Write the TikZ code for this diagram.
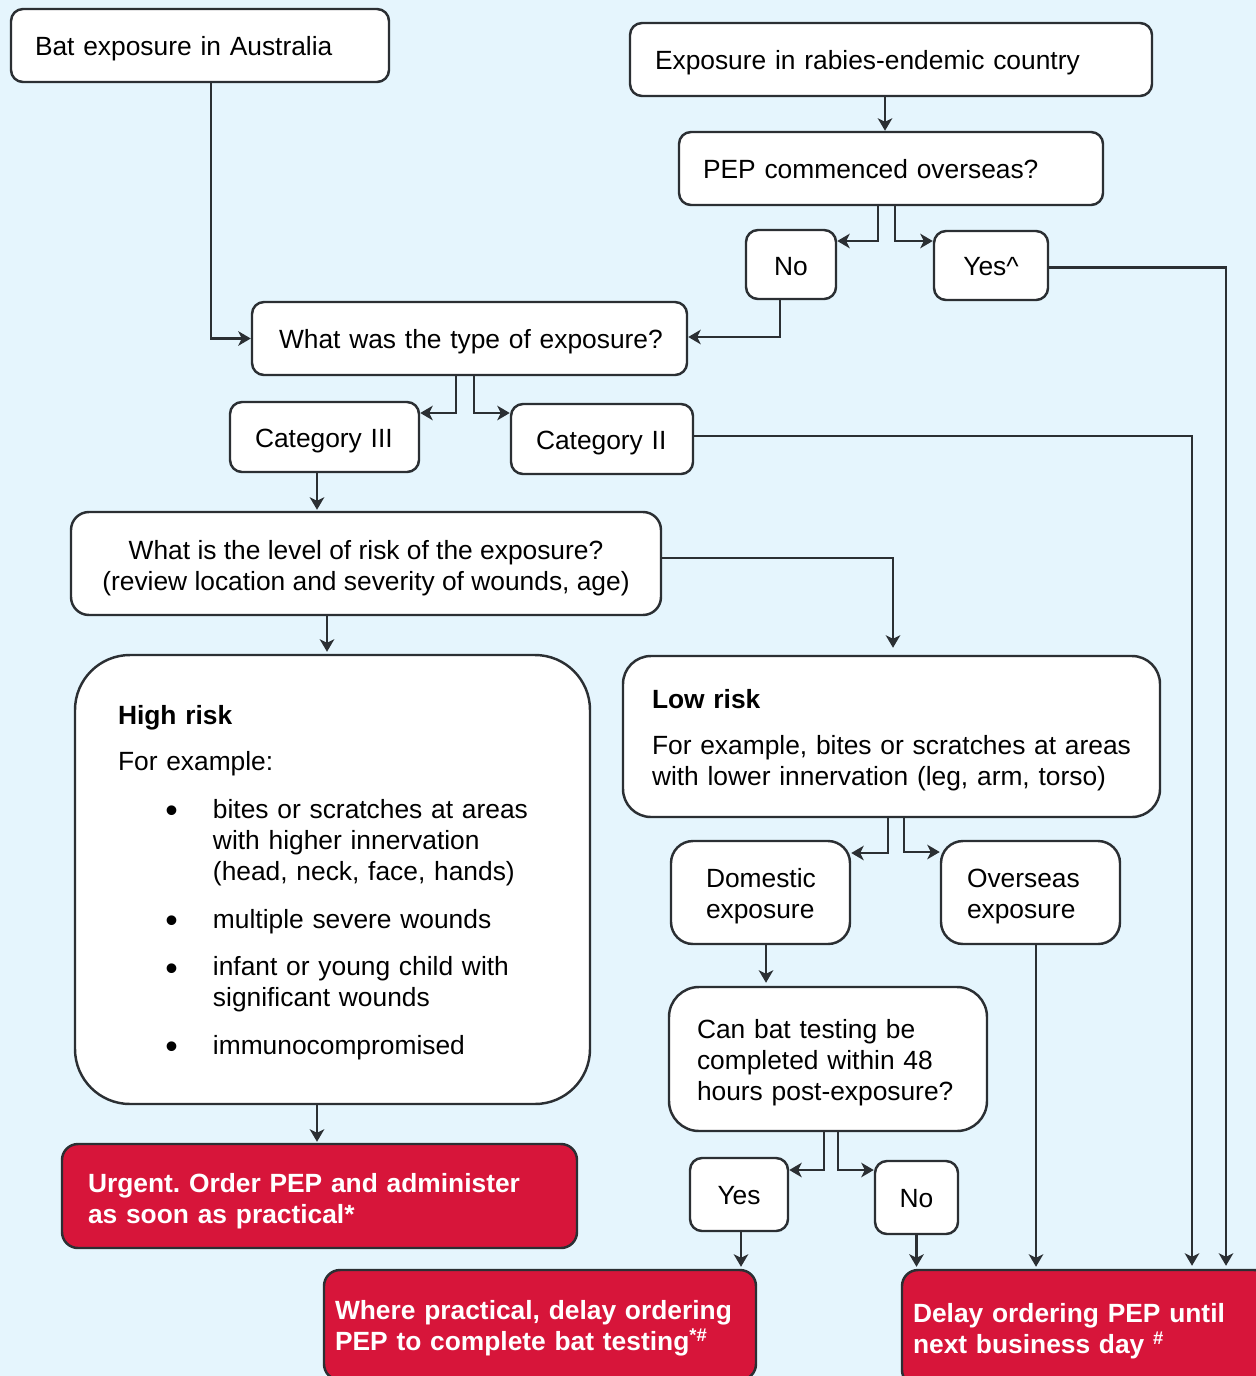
\documentclass[tikz,border=0pt]{standalone}
\usepackage{fontspec}
\usepackage{graphicx}
\setmainfont{Liberation Sans}
\usetikzlibrary{arrows.meta,calc}
\definecolor{bgblue}{RGB}{229,245,253}
\definecolor{redbox}{RGB}{215,21,58}
\definecolor{edgec}{RGB}{43,47,51}
\newcommand{\mylines}[1]{\raisebox{-0.08cm}[\height][\depth]{\begin{tabular}{@{}l@{}}#1\end{tabular}}}
\newcommand{\mycent}[2]{\raisebox{-#1cm}[\height][\depth]{\begin{tabular}{@{}c@{}}#2\end{tabular}}}
\newcommand{\hrbullet}{\hspace*{0.95cm}\makebox[0.95cm][l]{\raisebox{-0.3ex}{\scalebox{1.35}{\textbullet}}}}
\newcommand{\hrcont}{\hspace*{1.9cm}}
\frenchspacing
\begin{document}
\begin{tikzpicture}[x=0.02cm,y=-0.02cm,
  every node/.style={font=\fontsize{15}{17.6}\selectfont},
  base/.style={draw=edgec, line width=1.4pt, fill=white, text=black, rounded corners=#1*0.02cm},
  base/.default=12,
  redb/.style={draw=edgec, line width=1.4pt, fill=redbox, text=white, rounded corners=16*0.02cm, font=\bfseries\fontsize{15}{17.6}\selectfont},
  lb/.style n args={3}{minimum width=#1*0.02cm, minimum height=#2*0.02cm, text width=(#1-2*#3)*0.02cm, inner xsep=#3*0.02cm, inner ysep=0pt, align=left},
  cb/.style n args={2}{minimum width=#1*0.02cm, minimum height=#2*0.02cm, inner sep=0pt, align=center},
  arr/.style={draw=edgec, line width=1.25pt, -{Stealth[length=0.25cm,width=0.29cm,inset=0.07cm]}},
]
\fill[bgblue] (0,0) rectangle (1256,1376);
\useasboundingbox (0,0) rectangle (1256,1376);

\node[base, lb={378}{73}{24}] (bat) at (200,45.5) {\mylines{Bat exposure in Australia}};
\node[base, lb={522}{73}{25}] (endemic) at (891,59.5) {\mylines{Exposure in rabies-endemic country}};
\node[base, lb={424}{73}{24}] (pep) at (891,168.5) {\mylines{PEP commenced overseas?}};
\node[base, cb={90}{69}] (no1) at (791,264.5) {\mycent{0.09}{No}};
\node[base, cb={114}{69}] (yes1) at (991,265.5) {\mycent{0.07}{Yes\textasciicircum}};
\node[base, lb={435}{73}{27}] (type) at (469.5,338.5) {\mylines{What was the type of exposure?}};
\node[base, lb={189}{70}{25}] (cat3) at (324.5,437) {\mylines{Category III}};
\node[base, lb={182}{70}{25}] (cat2) at (602,439) {\mylines{Category II}};
\node[base=18, cb={590}{103}] (level) at (366,563.5) {\mycent{0.1}{What is the level of risk of the exposure?\\(review location and severity of wounds, age)}};
\node[base=55, lb={515}{449}{43}] (high) at (332.5,879.5) {\mylines{\textbf{High risk}\\[8.5pt]
  For example:\\[9.6pt]
  \hrbullet bites or scratches at areas\\
  \hrcont with higher innervation\\
  \hrcont (head, neck, face, hands)\\[9.6pt]
  \hrbullet multiple severe wounds\\[9.6pt]
  \hrbullet infant or young child with\\
  \hrcont significant wounds\\[9.6pt]
  \hrbullet immunocompromised}};
\node[base=28, lb={537}{161}{29}] (low) at (891.5,736.5) {\mylines{\textbf{Low risk}\\[8.5pt]
  For example, bites or scratches at areas\\
  with lower innervation (leg, arm, torso)}};
\node[base=22, lb={179}{103}{35}] (dom) at (760.5,892.5) {\mylines{Domestic\\exposure}};
\node[base=22, lb={179}{103}{26}] (ovs) at (1030.5,892.5) {\mylines{Overseas\\exposure}};
\node[base=30, lb={318}{144}{28}] (canbat) at (828,1059) {\mylines{Can bat testing be\\completed within 48\\hours post-exposure?}};
\node[base, cb={98}{73}] (yes2) at (739,1194.5) {\mycent{0.07}{Yes}};
\node[base, cb={83}{73}] (no2) at (916.5,1197.5) {\mycent{0.07}{No}};
\node[redb, lb={515}{104}{26}] (urgent) at (319.5,1196) {\raisebox{-0.12cm}[\height][\depth]{\begin{tabular}{@{}l@{}}Urgent. Order PEP and administer\\as soon as practical*\end{tabular}}};
\node[redb, lb={432}{110}{11}] (where) at (540,1325) {\mylines{Where practical, delay ordering\\PEP to complete bat testing\textsuperscript{*\#}}};
\node[redb, lb={368}{116}{11}] (delay) at (1086,1328) {\mylines{Delay ordering PEP until\\next business day \textsuperscript{\#}}};

\draw[arr] ($(bat.south)+(11,0)$) |- (type.west);
\draw[arr] ($(endemic.south)+(-6,0)$) -- ($(pep.north)+(-6,0)$);
\draw[arr] ($(pep.south)+(-13,0)$) |- ($(no1.east)+(0,-23.5)$);
\draw[arr] ($(pep.south)+(4,0)$) |- ($(yes1.west)+(0,-24.5)$);
\draw[arr] ($(no1.south)+(-11,0)$) |- ($(type.east)+(0,-1.5)$);
\draw[arr] ($(yes1.east)+(0,2)$) -| ($(delay.north)+(140,-3)$);
\draw[arr] ($(type.south)+(-13.5,0)$) |- ($(cat3.east)+(0,-24)$);
\draw[arr] ($(type.south)+(4.5,0)$) |- ($(cat2.west)+(0,-26)$);
\draw[arr] ($(cat2.east)+(0,-3)$) -| ($(delay.north)+(106,-3)$);
\draw[arr] ($(cat3.south)+(-7.5,0)$) -- ($(cat3.south |- level.north)+(-7.5,-1)$);
\draw[arr] ($(level.south)+(-39,0)$) -- ($(level.south |- high.north)+(-39,-2)$);
\draw[arr] ($(level.east)+(0,-5.5)$) -| ($(low.north)+(1.5,-7)$);
\draw[arr] ($(high.south)+(-15.5,0)$) -- ($(high.south |- urgent.north)+(-15.5,-1)$);
\draw[arr] ($(low.south)+(-3.5,0)$) |- ($(dom.east)+(0,-39.5)$);
\draw[arr] ($(low.south)+(12.5,0)$) |- ($(ovs.west)+(0,-40.5)$);
\draw[arr] ($(dom.south)+(5.5,0)$) -- ($(dom.south |- canbat.north)+(5.5,-3)$);
\draw[arr] ($(ovs.south)+(5.5,0)$) -- ($(ovs.south |- delay.north)+(5.5,-2)$);
\draw[arr] ($(canbat.south)+(-4,0)$) |- ($(yes2.east)+(0,-24.5)$);
\draw[arr] ($(canbat.south)+(10,0)$) |- ($(no2.west)+(0,-27.5)$);
\draw[arr] ($(yes2.south)+(2,0)$) -- ($(yes2.south |- where.north)+(2,-2)$);
\draw[arr] (no2.south) -- ($(no2.south |- delay.north)+(0,-2)$);
\end{tikzpicture}
\end{document}
